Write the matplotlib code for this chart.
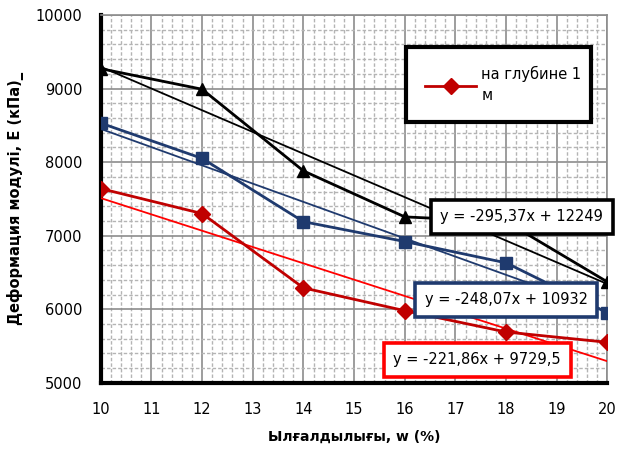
import matplotlib
matplotlib.use("Agg")
import matplotlib.pyplot as plt
from matplotlib.ticker import MultipleLocator
import numpy as np

# moisture, %
w = [10, 12, 14, 16, 18, 20]
# deformation modulus, kPa
e_red = [7640, 7300, 6290, 5980, 5690, 5550]
e_blue = [8530, 8050, 7190, 6920, 6630, 5950]
e_black = [9270, 8990, 7880, 7255, 7190, 6370]

# trendline coefficients (slope, intercept) as shown in labels
fit_red = (-221.86, 9729.5)
fit_blue = (-248.07, 10932)
fit_black = (-295.37, 12249)

lbl_red = "y = -221,86x + 9729,5"
lbl_blue = "y = -248,07x + 10932"
lbl_black = "y = -295,37x + 12249"

c_red = "#C00000"
c_red2 = "#FF0000"
c_blue = "#1F3A6E"
c_black = "#000000"

fig = plt.figure(figsize=(6.18, 4.53), dpi=100)
ax = fig.add_axes([0.163, 0.155, 0.820, 0.812])

xx = np.array([10, 20])

ax.plot(w, e_red, color=c_red, lw=2, marker="D", ms=8, zorder=4, label="на глубине 1\nм")
ax.plot(xx, fit_red[0] * xx + fit_red[1], color=c_red2, lw=1.3, zorder=3)

ax.plot(w, e_blue, color=c_blue, lw=2, marker="s", ms=8, zorder=4)
ax.plot(xx, fit_blue[0] * xx + fit_blue[1], color=c_blue, lw=1.3, zorder=3)

ax.plot(w, e_black, color=c_black, lw=2, marker="^", ms=8, zorder=4)
ax.plot(xx, fit_black[0] * xx + fit_black[1], color=c_black, lw=1.3, zorder=3)

ax.set_xlim(10, 20)
ax.set_ylim(5000, 10000)
ax.xaxis.set_major_locator(MultipleLocator(1))
ax.xaxis.set_minor_locator(MultipleLocator(0.2))
ax.yaxis.set_major_locator(MultipleLocator(1000))
ax.yaxis.set_minor_locator(MultipleLocator(200))
ax.grid(which="major", color="#8C8C8C", lw=1.2, zorder=1)
ax.grid(which="minor", color="#B4B4B4", lw=1, ls=(0, (2.5, 1.5)), zorder=1)
ax.set_axisbelow(True)

for s in ["top", "right"]:
    ax.spines[s].set_color("#8C8C8C")
    ax.spines[s].set_linewidth(1.2)
for s in ["left", "bottom"]:
    ax.spines[s].set_color("black")
    ax.spines[s].set_linewidth(3)

ax.tick_params(which="both", length=0)
ax.tick_params(axis="x", pad=14, labelsize=10.5)
ax.tick_params(axis="y", pad=13, labelsize=10.5)

ax.set_xlabel("Ылғалдылығы, w (%)", fontsize=10, fontweight="bold")
ax.set_ylabel("Деформация модулі, Е (кПа)_", fontsize=10.5, fontweight="bold")
ax.xaxis.set_label_coords(0.5, -0.128)
ax.yaxis.set_label_coords(-0.151, 0.5)

box = dict(boxstyle="square,pad=0.65", fc="white", lw=2.6)
ax.text(18.31, 7255, lbl_black, ha="center", va="center", fontsize=10.5, zorder=6,
        bbox=dict(box, ec=c_black))
ax.text(18.0, 6128, lbl_blue, ha="center", va="center", fontsize=10.5, zorder=6,
        bbox=dict(box, ec=c_blue))
ax.text(17.43, 5312, lbl_red, ha="center", va="center", fontsize=10.5, zorder=6,
        bbox=dict(box, ec=c_red2))

leg = ax.legend(loc="upper left", bbox_to_anchor=(0.603, 0.708, 0.364, 0.204),
                mode="expand", fontsize=10.5, fancybox=False, framealpha=1,
                borderaxespad=0, borderpad=1.3, handlelength=3.5, handletextpad=0.35)
for t in leg.get_texts():
    t.set_linespacing(1.5)
leg.get_frame().set_edgecolor("black")
leg.get_frame().set_linewidth(3)
leg.set_zorder(7)

fig.savefig("out.png", dpi=100)
